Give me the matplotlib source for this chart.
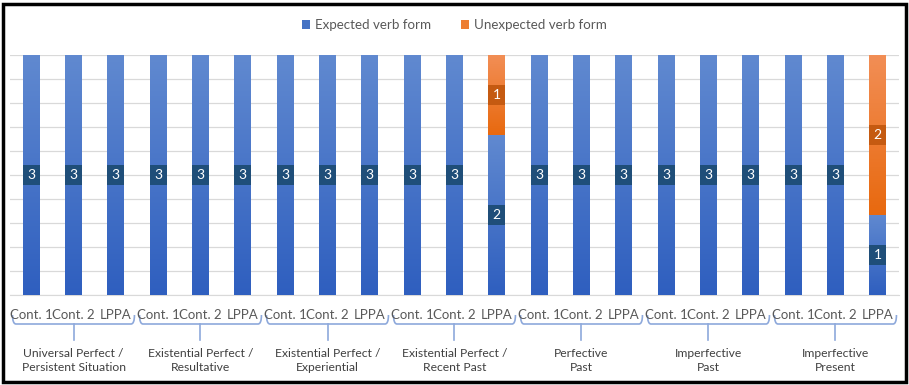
import numpy as np
import matplotlib.pyplot as plt
from matplotlib.patches import Rectangle
from matplotlib.colors import LinearSegmentedColormap
from matplotlib.path import Path
from matplotlib.patches import PathPatch

plt.rcParams["font.family"] = ["Lato", "DejaVu Sans"]

groups = [
    "Universal Perfect /\nPersistent Situation",
    "Existential Perfect /\nResultative",
    "Existential Perfect /\nExperiential",
    "Existential Perfect /\nRecent Past",
    "Perfective\nPast",
    "Imperfective\nPast",
    "Imperfective\nPresent",
]
conditions = ["Cont. 1", "Cont. 2", "LPPA"]

expected = [3, 3, 3, 3, 3, 3, 3, 3, 3, 3, 3, 2, 3, 3, 3, 3, 3, 3, 3, 3, 1]
unexpected = [0, 0, 0, 0, 0, 0, 0, 0, 0, 0, 0, 1, 0, 0, 0, 0, 0, 0, 0, 0, 2]

blue_cmap = LinearSegmentedColormap.from_list("b", ["#2F5FBF", "#6089D0"])
orange_cmap = LinearSegmentedColormap.from_list("o", ["#E8690F", "#F28E55"])
grad = np.linspace(0, 1, 100).reshape(-1, 1)

fig = plt.figure(figsize=(9.09, 3.85), dpi=100)
ax = fig.add_axes([10 / 909, 1 - 295 / 385, 889 / 909, 240 / 385])

n = len(expected)
x = np.arange(n)
width = 0.4

bars_e = ax.bar(x, expected, width, color="#4472C4", label="Expected verb form", zorder=2)
bars_u = ax.bar(x, unexpected, width, bottom=expected, color="#ED7D31",
                label="Unexpected verb form", zorder=2)

# gradient fill over each segment
for xi, e, u in zip(x, expected, unexpected):
    if e > 0:
        ax.imshow(grad, extent=[xi - width / 2, xi + width / 2, 0, e], origin="lower",
                  aspect="auto", cmap=blue_cmap, zorder=3)
    if u > 0:
        ax.imshow(grad, extent=[xi - width / 2, xi + width / 2, e, e + u], origin="lower",
                  aspect="auto", cmap=orange_cmap, zorder=3)

# data labels
box_h = 0.26
for xi, e, u in zip(x, expected, unexpected):
    for bottom, val, fc in [(0, e, "#1F4E79"), (e, u, "#C55A11")]:
        if val > 0:
            yc = bottom + val / 2
            ax.add_patch(Rectangle((xi - width / 2, yc - box_h / 2), width, box_h,
                                   facecolor=fc, edgecolor="none", zorder=4))
            ax.text(xi, yc, str(val), ha="center", va="center", color="white",
                    fontsize=10, zorder=5)

ax.set_xlim(-0.5, n - 0.5)
ax.set_ylim(0, 3)
ax.set_yticks(np.arange(0, 3.01, 0.3))
ax.yaxis.grid(True, color="#D9D9D9", linewidth=0.9, zorder=0)
ax.tick_params(axis="y", left=False, labelleft=False)
for s in ["top", "right", "left"]:
    ax.spines[s].set_visible(False)
ax.spines["bottom"].set_color("#D9D9D9")

ax.set_xticks(x)
ax.set_xticklabels(conditions * len(groups), fontsize=9.5, color="#595959")
ax.tick_params(axis="x", length=0, pad=10)

# group brackets and labels
trans = ax.get_xaxis_transform()
y_top = -20 / 240
y_line = -29 / 240
y_tick = -45 / 240
r = 0.08
for gi, name in enumerate(groups):
    left = gi * 3 - 0.5 + 0.06
    right = gi * 3 + 2.5 - 0.06
    mid = gi * 3 + 1
    verts = [(left, y_top), (left, y_line), (left + r, y_line),
             (right - r, y_line), (right, y_line), (right, y_top)]
    codes = [Path.MOVETO, Path.CURVE3, Path.CURVE3, Path.LINETO, Path.CURVE3, Path.CURVE3]
    ax.add_patch(PathPatch(Path(verts, codes), transform=trans, fill=False,
                           edgecolor="#8EA9DB", linewidth=1.2, clip_on=False))
    ax.plot([mid, mid], [y_line, y_tick], transform=trans, color="#8EA9DB",
            linewidth=1.2, clip_on=False)
    ax.text(mid, -53 / 240, name, transform=trans, ha="center", va="top",
            fontsize=8.7, color="#404040", linespacing=1.3)

leg = fig.legend(handles=[bars_e, bars_u], loc="center", bbox_to_anchor=(0.5, 1 - 25 / 385),
                 ncol=2, frameon=False, fontsize=9.6, handlelength=0.6, handleheight=0.6,
                 columnspacing=2.2, handletextpad=0.4)
for t in leg.get_texts():
    t.set_color("#595959")

fig.patches.append(Rectangle((3 / 909, 3 / 385), 903 / 909, 378 / 385, transform=fig.transFigure,
                             fill=False, edgecolor="black", linewidth=2.5))

fig.savefig("out.png", dpi=100)
